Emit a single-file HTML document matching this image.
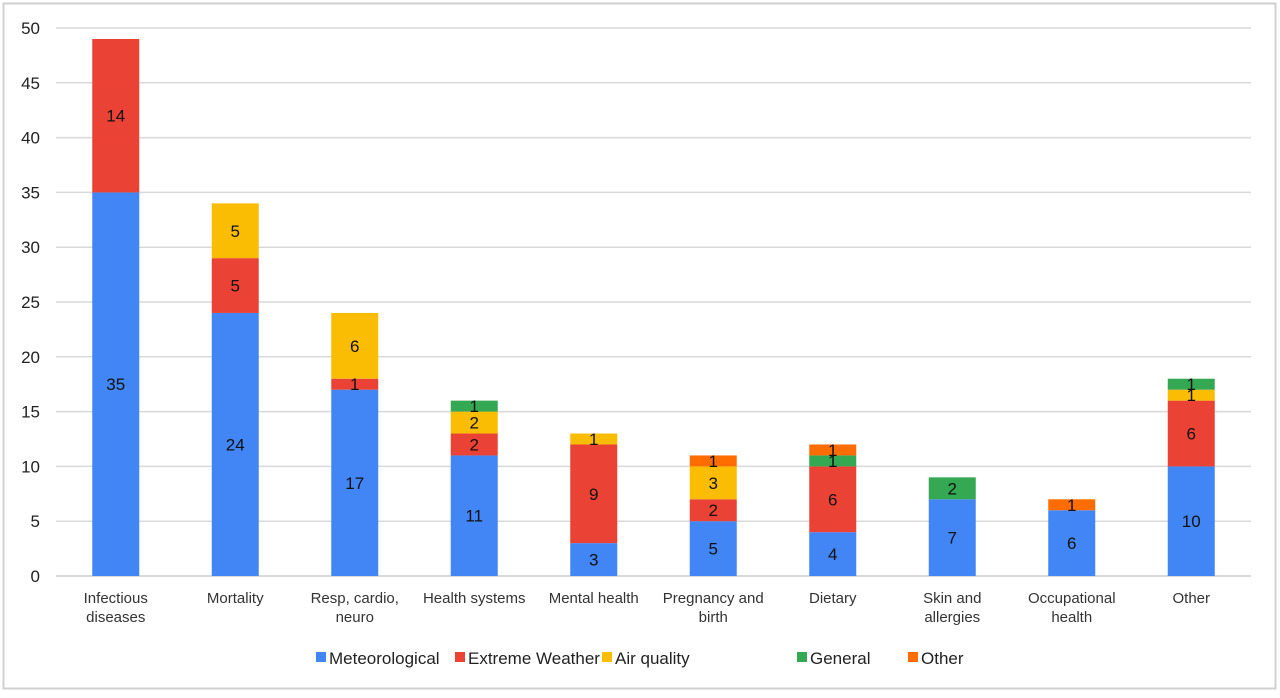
<!DOCTYPE html>
<html><head><meta charset="utf-8"><style>
body{margin:0;background:#fff;}
svg text{font-family:"Liberation Sans",Arial,sans-serif;}
</style></head><body>
<svg id="chart" width="1280" height="693" xmlns="http://www.w3.org/2000/svg">
<rect x="3.5" y="3.5" width="1272" height="685" fill="#fff" stroke="#d0d0d0" stroke-width="2"/>
<g id="grid"></g><g id="bars"></g><g id="labels"></g><g id="legend"></g>
</svg>
<script>
const categories=[["Infectious","diseases"],["Mortality"],["Resp, cardio,","neuro"],["Health systems"],["Mental health"],["Pregnancy and","birth"],["Dietary"],["Skin and","allergies"],["Occupational","health"],["Other"]];
const seriesNames=["Meteorological","Extreme Weather","Air quality","General","Other"];
const meteorological=[35,24,17,11,3,5,4,7,6,10];
const extremeWeather=[14,5,1,2,9,2,6,0,0,6];
const airQuality=[0,5,6,2,1,3,0,0,0,1];
const general=[0,0,0,1,0,0,1,2,0,1];
const other=[0,0,0,0,0,1,1,0,1,0];
const yTicks=[0,5,10,15,20,25,30,35,40,45,50];
const series=[meteorological,extremeWeather,airQuality,general,other];
const colors=["#4285f4","#ea4335","#fbbc04","#34a853","#ff6d01"];
const NS="http://www.w3.org/2000/svg";
const L=56,R=1251,T=28,B=576,yMax=50;
const y=v=>B-(v/yMax)*(B-T);
const band=(R-L)/categories.length;
const xc=i=>L+band*(i+0.5);
const bw=47;
function mk(tag,attrs,parent){const e=document.createElementNS(NS,tag);for(const k in attrs)e.setAttribute(k,attrs[k]);parent.appendChild(e);return e;}
const grid=document.getElementById('grid'),bars=document.getElementById('bars'),labels=document.getElementById('labels'),legend=document.getElementById('legend');
yTicks.forEach(t=>{
 const l=mk('line',{x1:L,x2:R,y1:y(t),y2:y(t),stroke:'#d9d9d9','stroke-width':t===0?2:1.5},grid);
 
 
 const tx=mk('text',{x:40,y:y(t)+6,'text-anchor':'end','font-size':17,fill:'#222'},grid);
 tx.textContent=t;
 
 
});
categories.forEach((c,i)=>{
 let acc=0;
 series.forEach((s,si)=>{
  const v=s[i]; if(!v) return;
  const r=mk('rect',{x:xc(i)-bw/2,y:y(acc+v),width:bw,height:y(acc)-y(acc+v),fill:colors[si]},bars);
  
  
  const t=mk('text',{x:xc(i),y:(y(acc)+y(acc+v))/2+6,'text-anchor':'middle','font-size':17,fill:'#111'},labels);
  t.textContent=v;
  
  
  acc+=v;
 });
 c.forEach((line,li)=>{
  const t=mk('text',{x:xc(i),y:603+li*19,'text-anchor':'middle','font-size':15,fill:'#333'},labels);
  t.textContent=line;
  
  
 });
});
const legX=[316,455,602,797,908];
seriesNames.forEach((n,i)=>{
 const g=mk('g',{},legend);
 
 
 mk('rect',{x:legX[i],y:652,width:10,height:10,fill:colors[i]},g);
 const t=mk('text',{x:legX[i]+13,y:664,'font-size':17,fill:'#222'},g);
 t.textContent=n;
});
</script>
</body></html>
